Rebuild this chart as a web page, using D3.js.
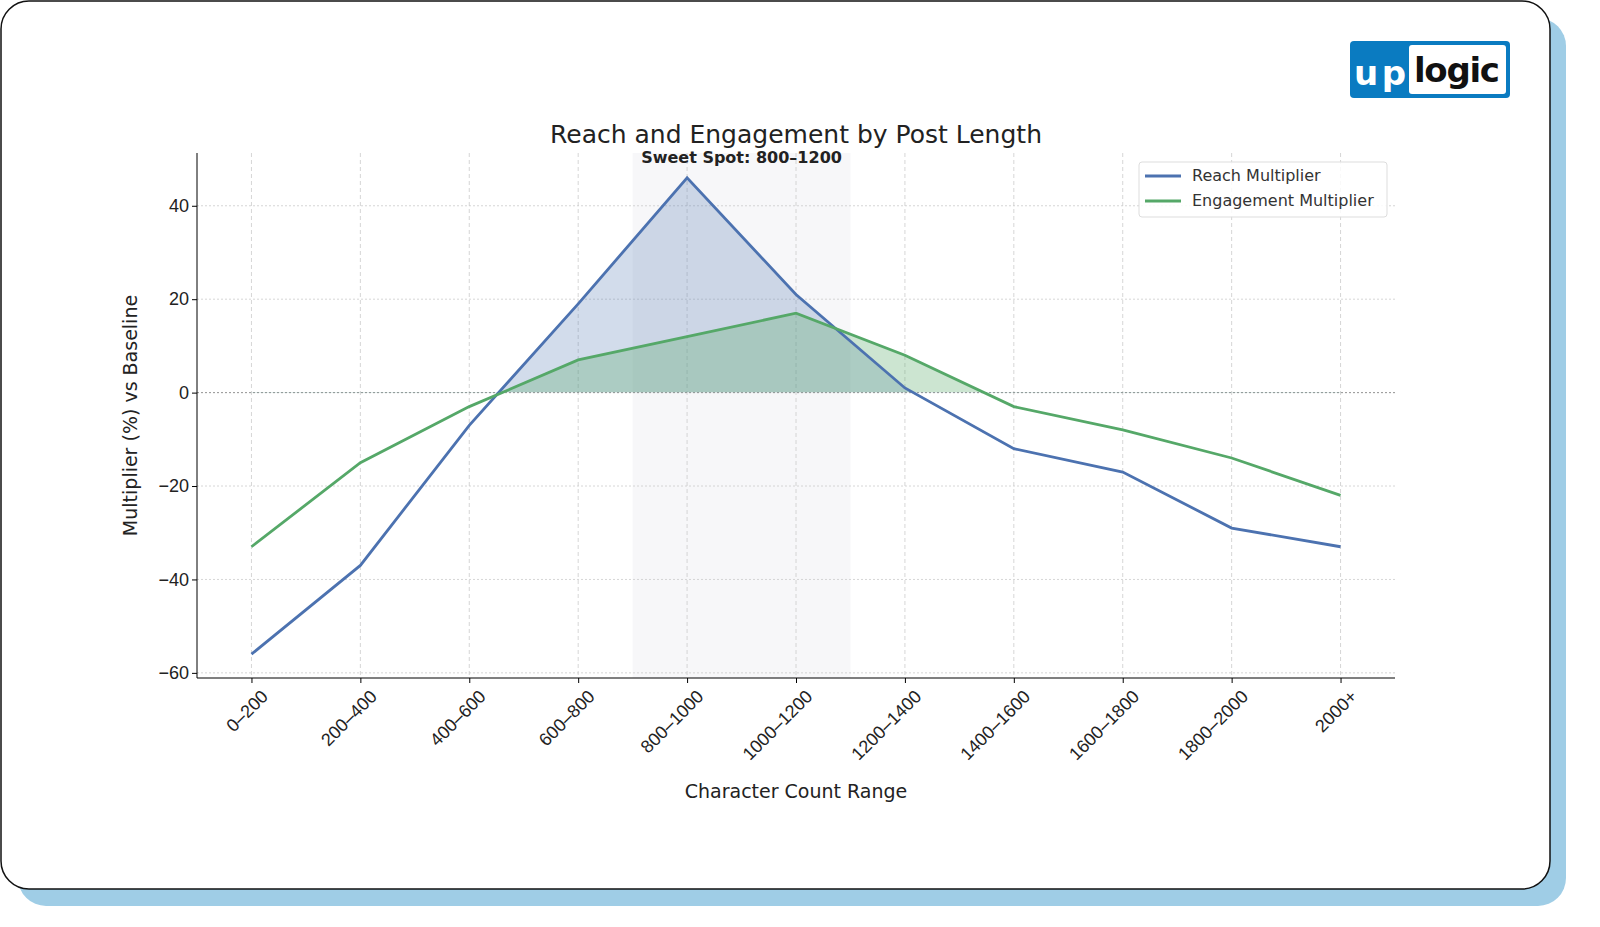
<!DOCTYPE html>
<html><head><meta charset="utf-8">
<script src="https://cdn.jsdelivr.net/npm/d3@7"></script>
<style>body{margin:0;background:#fff;}svg{display:block;font-family:"DejaVu Sans",sans-serif;}</style>
</head><body><svg id="c" width="1600" height="927"></svg>
<script>
const categories = ['0–200','200–400','400–600','600–800','800–1000','1000–1200','1200–1400','1400–1600','1600–1800','1800–2000','2000+'];
const reach = [-56, -37, -7, 19, 46, 21, 1, -12, -17, -29, -33];
const engagement = [-33, -15, -3, 7, 12, 17, 8, -3, -8, -14, -22];
const yTicks = [-60, -40, -20, 0, 20, 40];

const svg = d3.select('#c');
// card with shadow
svg.append('rect').attr('x', 18).attr('y', 18).attr('width', 1548).attr('height', 888).attr('rx', 28).attr('fill', '#9fcde6');
svg.append('rect').attr('x', 1).attr('y', 1).attr('width', 1549).attr('height', 888).attr('rx', 28).attr('fill', '#fff').attr('stroke', '#111').attr('stroke-width', 1.5);

// logo
const lg = svg.append('g').attr('transform', 'translate(1350,41)');
lg.append('rect').attr('width', 160).attr('height', 57).attr('rx', 4).attr('fill', '#0a7bc1');
lg.append('rect').attr('x', 59).attr('y', 4).attr('width', 97).attr('height', 49).attr('rx', 3).attr('fill', '#fff');
lg.append('text').attr('x', 4).attr('y', 44).attr('fill', '#fff').attr('font-size', 34).attr('font-weight', 'bold').attr('textLength', 52).text('up');
lg.append('text').attr('x', 107).attr('y', 41).attr('text-anchor', 'middle').attr('fill', '#111').attr('font-size', 34).attr('font-weight', 'bold').attr('textLength', 86).text('logic');

const L = 197, R = 1395, T = 153, B = 678;
const x = d3.scaleLinear().domain([-0.5, 10.5]).range([L, R]);
const y = d3.scaleLinear().domain([-61.1, 51.3]).range([B, T]);
const g = svg.append('g');

// shaded band
g.append('rect').attr('x', x(3.5)).attr('width', x(5.5) - x(3.5)).attr('y', T).attr('height', B - T).attr('fill', '#f7f7f9');

// grid
categories.forEach((c, i) => g.append('line').attr('x1', x(i)).attr('x2', x(i)).attr('y1', T).attr('y2', B)
  .attr('stroke', '#ccc').attr('stroke-dasharray', '4,3').attr('stroke-width', 0.8));
yTicks.forEach(t => g.append('line').attr('x1', L).attr('x2', R).attr('y1', y(t)).attr('y2', y(t))
  .attr('stroke', '#ccc').attr('stroke-dasharray', '2,2').attr('stroke-width', 0.8));
g.append('line').attr('x1', L).attr('x2', R).attr('y1', y(0)).attr('y2', y(0)).attr('stroke', '#999').attr('stroke-dasharray', '2,2');

// fills above zero
svg.append('clipPath').attr('id', 'pos').append('rect').attr('x', L).attr('y', T).attr('width', R - L).attr('height', y(0) - T);
const area = d3.area().x((d, i) => x(i)).y0(y(0)).y1(d => y(d));
g.append('path').datum(reach).attr('d', area).attr('fill', '#4c72b0').attr('fill-opacity', 0.25).attr('clip-path', 'url(#pos)');
g.append('path').datum(engagement).attr('d', area).attr('fill', '#55a868').attr('fill-opacity', 0.3).attr('clip-path', 'url(#pos)');

const line = d3.line().x((d, i) => x(i)).y(d => y(d));
g.append('path').datum(reach).attr('d', line).attr('fill', 'none').attr('stroke', '#4c72b0').attr('stroke-width', 2.8);
g.append('path').datum(engagement).attr('d', line).attr('fill', 'none').attr('stroke', '#55a868').attr('stroke-width', 2.8);

// axes
const xa = g.append('g').attr('transform', `translate(0,${B})`)
  .call(d3.axisBottom(x).tickValues(d3.range(categories.length)).tickFormat(i => categories[i]).tickSize(5));
xa.select('.domain').attr('d', `M${L},0H${R}`).attr('stroke', '#000');
xa.selectAll('text').attr('font-size', 18).attr('fill', '#222').attr('text-anchor', 'end')
  .attr('transform', 'rotate(-45)').attr('dx', '-0.1em').attr('dy', '1em');
const ya = g.append('g').attr('transform', `translate(${L},0)`)
  .call(d3.axisLeft(y).tickValues(yTicks).tickFormat(d => d < 0 ? '−' + Math.abs(d) : d).tickSize(5));
ya.select('.domain').attr('d', `M0,${T}V${B}`).attr('stroke', '#000');
ya.selectAll('text').attr('font-size', 18).attr('fill', '#222');

// labels
svg.append('text').attr('x', 796).attr('y', 143).attr('text-anchor', 'middle').attr('font-size', 25).attr('fill', '#222').text('Reach and Engagement by Post Length');
svg.append('text').attr('x', x(4.5)).attr('y', 163).attr('text-anchor', 'middle').attr('font-size', 16).attr('font-weight', 'bold').attr('fill', '#222').text('Sweet Spot: 800–1200');
svg.append('text').attr('x', 796).attr('y', 798).attr('text-anchor', 'middle').attr('font-size', 19).attr('fill', '#222').text('Character Count Range');
svg.append('text').attr('transform', `translate(137,${(T + B) / 2}) rotate(-90)`).attr('text-anchor', 'middle').attr('font-size', 19).attr('fill', '#222').text('Multiplier (%) vs Baseline');

// legend
const leg = svg.append('g').attr('transform', 'translate(1139,162)');
leg.append('rect').attr('width', 248).attr('height', 55).attr('rx', 3).attr('fill', '#fff').attr('fill-opacity', 0.85).attr('stroke', '#ddd');
[['Reach Multiplier', '#4c72b0'], ['Engagement Multiplier', '#55a868']].forEach(([t, c], i) => {
  leg.append('line').attr('x1', 6).attr('x2', 42).attr('y1', 14 + i * 25).attr('y2', 14 + i * 25).attr('stroke', c).attr('stroke-width', 2.8);
  leg.append('text').attr('x', 53).attr('y', 19 + i * 25).attr('font-size', 16).attr('fill', '#333').text(t);
});
</script></body></html>
